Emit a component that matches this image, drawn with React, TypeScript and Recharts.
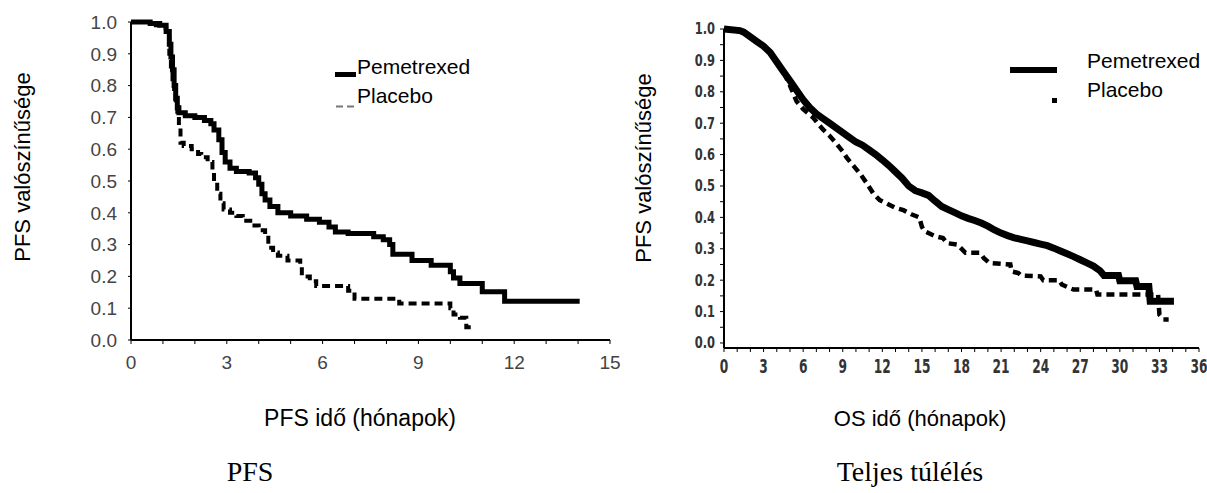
import React from 'react';
import { LineChart, Line, XAxis, YAxis } from 'recharts';

const ARIAL = "'Liberation Sans', Arial, sans-serif";
const NARROW = "'Liberation Sans Narrow', 'DejaVu Sans Condensed', sans-serif";
const SERIF = "'Liberation Serif', 'Times New Roman', serif";

// ---------- PFS chart data (time in months, survival probability) ----------
const pfsPemetrexed = [
  { t: 0, s: 1.0 }, { t: 0.6, s: 0.995 }, { t: 0.9, s: 0.99 }, { t: 1.1, s: 0.97 },
  { t: 1.2, s: 0.93 }, { t: 1.25, s: 0.89 }, { t: 1.3, s: 0.85 }, { t: 1.35, s: 0.8 },
  { t: 1.4, s: 0.76 }, { t: 1.45, s: 0.73 }, { t: 1.5, s: 0.715 }, { t: 1.7, s: 0.705 },
  { t: 2.0, s: 0.7 }, { t: 2.3, s: 0.69 }, { t: 2.5, s: 0.68 }, { t: 2.6, s: 0.66 },
  { t: 2.75, s: 0.63 }, { t: 2.85, s: 0.59 }, { t: 2.95, s: 0.56 }, { t: 3.1, s: 0.54 },
  { t: 3.3, s: 0.53 }, { t: 3.7, s: 0.525 }, { t: 3.9, s: 0.51 }, { t: 4.0, s: 0.49 },
  { t: 4.1, s: 0.46 }, { t: 4.2, s: 0.44 }, { t: 4.35, s: 0.42 }, { t: 4.6, s: 0.4 },
  { t: 5.0, s: 0.39 }, { t: 5.5, s: 0.38 }, { t: 5.9, s: 0.37 }, { t: 6.2, s: 0.355 },
  { t: 6.4, s: 0.34 }, { t: 6.8, s: 0.335 }, { t: 7.6, s: 0.325 }, { t: 7.9, s: 0.315 },
  { t: 8.1, s: 0.3 }, { t: 8.2, s: 0.27 }, { t: 8.8, s: 0.25 }, { t: 9.4, s: 0.235 },
  { t: 10.0, s: 0.215 }, { t: 10.1, s: 0.195 }, { t: 10.3, s: 0.178 }, { t: 11.0, s: 0.152 },
  { t: 11.7, s: 0.122 }, { t: 14.05, s: 0.122 },
];

const pfsPlacebo = [
  { t: 0, s: 1.0 }, { t: 0.7, s: 0.99 }, { t: 1.0, s: 0.98 }, { t: 1.1, s: 0.95 },
  { t: 1.2, s: 0.9 }, { t: 1.25, s: 0.86 }, { t: 1.3, s: 0.82 }, { t: 1.35, s: 0.78 },
  { t: 1.4, s: 0.74 }, { t: 1.45, s: 0.71 }, { t: 1.5, s: 0.67 }, { t: 1.55, s: 0.62 },
  { t: 1.65, s: 0.61 }, { t: 1.9, s: 0.6 }, { t: 2.1, s: 0.585 }, { t: 2.2, s: 0.575 },
  { t: 2.4, s: 0.56 }, { t: 2.55, s: 0.53 }, { t: 2.6, s: 0.5 }, { t: 2.7, s: 0.46 },
  { t: 2.8, s: 0.43 }, { t: 2.9, s: 0.41 }, { t: 3.1, s: 0.4 }, { t: 3.3, s: 0.39 },
  { t: 3.5, s: 0.375 }, { t: 3.8, s: 0.36 }, { t: 4.0, s: 0.345 }, { t: 4.2, s: 0.33 },
  { t: 4.3, s: 0.29 }, { t: 4.45, s: 0.275 }, { t: 4.6, s: 0.265 }, { t: 4.9, s: 0.25 },
  { t: 5.3, s: 0.235 }, { t: 5.35, s: 0.2 }, { t: 5.6, s: 0.185 }, { t: 5.8, s: 0.17 },
  { t: 6.8, s: 0.155 }, { t: 7.0, s: 0.13 }, { t: 8.4, s: 0.115 }, { t: 10.0, s: 0.1 },
  { t: 10.1, s: 0.08 }, { t: 10.3, s: 0.07 }, { t: 10.5, s: 0.04 }, { t: 10.75, s: 0.04 },
];

// ---------- OS chart data ----------
const osPemetrexed = [
  { t: 0, s: 1.0 }, { t: 1.2, s: 0.995 }, { t: 1.5, s: 0.99 }, { t: 2.0, s: 0.975 },
  { t: 2.5, s: 0.96 }, { t: 3.0, s: 0.945 }, { t: 3.5, s: 0.925 }, { t: 4.0, s: 0.895 },
  { t: 4.5, s: 0.865 }, { t: 5.0, s: 0.835 }, { t: 5.5, s: 0.805 }, { t: 6.0, s: 0.775 },
  { t: 6.5, s: 0.75 }, { t: 7.0, s: 0.73 }, { t: 7.5, s: 0.715 }, { t: 8.0, s: 0.7 },
  { t: 8.5, s: 0.685 }, { t: 9.0, s: 0.67 }, { t: 9.5, s: 0.655 }, { t: 10.0, s: 0.64 },
  { t: 10.5, s: 0.63 }, { t: 11.0, s: 0.615 }, { t: 11.5, s: 0.6 }, { t: 12.0, s: 0.583 },
  { t: 12.5, s: 0.565 }, { t: 13.0, s: 0.545 }, { t: 13.5, s: 0.525 }, { t: 14.0, s: 0.5 },
  { t: 14.5, s: 0.485 }, { t: 15.0, s: 0.478 }, { t: 15.5, s: 0.47 }, { t: 16.0, s: 0.452 },
  { t: 16.5, s: 0.435 }, { t: 17.0, s: 0.425 }, { t: 17.5, s: 0.415 }, { t: 18.0, s: 0.405 },
  { t: 18.5, s: 0.397 }, { t: 19.0, s: 0.39 }, { t: 19.5, s: 0.382 }, { t: 20.0, s: 0.372 },
  { t: 20.5, s: 0.36 }, { t: 21.0, s: 0.35 }, { t: 21.5, s: 0.342 }, { t: 22.0, s: 0.335 },
  { t: 22.5, s: 0.33 }, { t: 23.0, s: 0.325 }, { t: 23.5, s: 0.32 }, { t: 24.0, s: 0.315 },
  { t: 24.5, s: 0.31 }, { t: 25.0, s: 0.302 }, { t: 25.5, s: 0.293 }, { t: 26.0, s: 0.284 },
  { t: 26.5, s: 0.275 }, { t: 27.0, s: 0.265 }, { t: 27.5, s: 0.255 }, { t: 28.0, s: 0.245 },
  { t: 28.5, s: 0.23 }, { t: 28.8, s: 0.215 }, { t: 29.9, s: 0.215 }, { t: 30.0, s: 0.198 },
  { t: 31.2, s: 0.198 }, { t: 31.3, s: 0.18 }, { t: 32.2, s: 0.18 }, { t: 32.3, s: 0.133 },
  { t: 34.1, s: 0.133 },
];

const osPlacebo = [
  { t: 0, s: 1.0 }, { t: 1.5, s: 0.99 }, { t: 2.0, s: 0.975 }, { t: 2.5, s: 0.96 },
  { t: 3.0, s: 0.945 }, { t: 3.5, s: 0.925 }, { t: 4.0, s: 0.895 }, { t: 4.5, s: 0.865 },
  { t: 5.0, s: 0.82 }, { t: 5.5, s: 0.77 }, { t: 6.0, s: 0.745 }, { t: 6.7, s: 0.72 },
  { t: 7.5, s: 0.68 }, { t: 8.0, s: 0.66 }, { t: 8.5, s: 0.636 }, { t: 9.0, s: 0.61 },
  { t: 9.3, s: 0.59 }, { t: 9.8, s: 0.565 }, { t: 10.3, s: 0.54 }, { t: 10.8, s: 0.51 },
  { t: 11.3, s: 0.477 }, { t: 11.8, s: 0.455 }, { t: 12.3, s: 0.445 }, { t: 13.0, s: 0.43 },
  { t: 13.6, s: 0.423 }, { t: 14.2, s: 0.41 }, { t: 14.8, s: 0.4 }, { t: 15.0, s: 0.37 },
  { t: 15.2, s: 0.356 }, { t: 16.0, s: 0.34 }, { t: 16.6, s: 0.334 }, { t: 16.9, s: 0.318 },
  { t: 17.7, s: 0.313 }, { t: 18.3, s: 0.287 }, { t: 19.4, s: 0.287 }, { t: 19.7, s: 0.27 },
  { t: 20.1, s: 0.255 }, { t: 21.7, s: 0.25 }, { t: 21.8, s: 0.228 }, { t: 22.3, s: 0.223 },
  { t: 22.5, s: 0.215 }, { t: 24.0, s: 0.212 }, { t: 24.2, s: 0.2 }, { t: 25.4, s: 0.2 },
  { t: 25.6, s: 0.186 }, { t: 26.2, s: 0.175 }, { t: 26.5, s: 0.17 }, { t: 28.2, s: 0.17 },
  { t: 28.3, s: 0.154 }, { t: 32.9, s: 0.154 }, { t: 33.0, s: 0.09 }, { t: 33.3, s: 0.075 },
  { t: 33.7, s: 0.075 },
];

// ---------- tick values ----------
const pfsXTicks = [0, 1, 2, 3, 4, 5, 6, 7, 8, 9, 10, 11, 12, 13, 14, 15];
const pfsYTicks = [0, 0.1, 0.2, 0.3, 0.4, 0.5, 0.6, 0.7, 0.8, 0.9, 1.0];
const osXTicks = [0, 1, 2, 3, 4, 5, 6, 7, 8, 9, 10, 11, 12, 13, 14, 15, 16, 17, 18, 19, 20,
  21, 22, 23, 24, 25, 26, 27, 28, 29, 30, 31, 32, 33, 34, 35, 36];
const osYTicks = [0, 0.05, 0.1, 0.15, 0.2, 0.25, 0.3, 0.35, 0.4, 0.45, 0.5, 0.55, 0.6, 0.65,
  0.7, 0.75, 0.8, 0.85, 0.9, 0.95, 1.0];

const labels = {
  yTitle: 'PFS valószínűsége',
  pfsXTitle: 'PFS idő (hónapok)',
  osXTitle: 'OS idő (hónapok)',
  pfsTitle: 'PFS',
  osTitle: 'Teljes túlélés',
  pem: 'Pemetrexed',
  pla: 'Placebo',
};

function OsXTick(props: any) {
  const { x, y, payload } = props;
  const v = payload.value;
  if (v % 3 !== 0) return null;
  return (
    <text
      transform={`translate(${x},${y}) scale(0.68,1)`}
      textAnchor="middle"
      dy="0.71em"
      fontFamily={NARROW}
      fontWeight="bold"
      fontSize={20}
      fill="#333"
    >
      {v}
    </text>
  );
}

function OsYTick(props: any) {
  const { x, y, payload } = props;
  const v = payload.value;
  if (Math.round(v * 100) % 10 !== 0) return null;
  return (
    <text
      transform={`translate(${x},${y}) scale(0.85,1)`}
      textAnchor="end"
      dy="0.36em"
      fontFamily={NARROW}
      fontWeight="bold"
      fontSize={15}
      fill="#333"
    >
      {v.toFixed(1)}
    </text>
  );
}

export default function App() {
  return (
    <div style={{ position: 'absolute', left: 0, top: 0, width: 1207, height: 493, background: '#fff', overflow: 'hidden' }}>
      <div style={{ position: 'absolute', left: 0, top: 0 }}>
        <LineChart width={640} height={400} margin={{ top: 22, right: 30, bottom: 20, left: 71 }}>
          <XAxis
            dataKey="t"
            type="number"
            domain={[0, 15]}
            ticks={pfsXTicks}
            interval={0}
            height={40}
            tickSize={4}
            tickMargin={12}
            axisLine={{ stroke: '#000', strokeWidth: 2 }}
            tickLine={{ stroke: '#000' }}
            tickFormatter={(v: number) => (v % 3 === 0 ? String(v) : '')}
            tick={{ fontSize: 19, fill: '#444', fontFamily: ARIAL }}
          />
          <YAxis
            type="number"
            domain={[0, 1]}
            ticks={pfsYTicks}
            interval={0}
            width={60}
            tickSize={3}
            tickMargin={11}
            axisLine={{ stroke: '#000', strokeWidth: 2 }}
            tickLine={{ stroke: '#000' }}
            tickFormatter={(v: number) => v.toFixed(1)}
            tick={{ fontSize: 19, fill: '#444', fontFamily: ARIAL }}
          />
          <Line
            data={pfsPlacebo}
            dataKey="s"
            type="stepAfter"
            stroke="#000"
            strokeWidth={4}
            strokeDasharray="8 5"
            dot={false}
            isAnimationActive={false}
          />
          <Line
            data={pfsPemetrexed}
            dataKey="s"
            type="stepAfter"
            stroke="#000"
            strokeWidth={5}
            dot={false}
            isAnimationActive={false}
          />
        </LineChart>
      </div>

      <div style={{ position: 'absolute', left: 620, top: 0 }}>
        <LineChart width={587} height={400} margin={{ top: 29, right: 8, bottom: 12, left: 44 }}>
          <XAxis
            dataKey="t"
            type="number"
            domain={[0, 36]}
            ticks={osXTicks}
            interval={0}
            height={40}
            tickSize={4}
            tickMargin={7}
            axisLine={{ stroke: '#000', strokeWidth: 2 }}
            tickLine={{ stroke: '#000' }}
            tick={<OsXTick />}
          />
          <YAxis
            type="number"
            domain={[-0.016, 1]}
            ticks={osYTicks}
            interval={0}
            width={60}
            tickSize={4}
            tickMargin={5}
            axisLine={{ stroke: '#000', strokeWidth: 2 }}
            tickLine={{ stroke: '#000' }}
            tick={<OsYTick />}
          />
          <Line
            data={osPlacebo}
            dataKey="s"
            type="linear"
            stroke="#000"
            strokeWidth={4.5}
            strokeDasharray="8 5"
            dot={false}
            isAnimationActive={false}
          />
          <Line
            data={osPemetrexed}
            dataKey="s"
            type="linear"
            stroke="#000"
            strokeWidth={7}
            dot={false}
            isAnimationActive={false}
          />
        </LineChart>
      </div>

      <svg width={1207} height={493} style={{ position: 'absolute', left: 0, top: 0, pointerEvents: 'none' }}>
        <g fontFamily={ARIAL} fill="#000">
          <text transform="translate(30,167) rotate(-90)" textAnchor="middle" fontSize={22}>{labels.yTitle}</text>
          <text transform="translate(651,168) rotate(-90)" textAnchor="middle" fontSize={22}>{labels.yTitle}</text>
          <text x={360} y={426} textAnchor="middle" fontSize={23}>{labels.pfsXTitle}</text>
          <text x={920} y={426} textAnchor="middle" fontSize={22}>{labels.osXTitle}</text>

          <rect x={335} y={72} width={21} height={5} fill="#000" />
          <text x={357} y={74} fontSize={21}>{labels.pem}</text>
          <line x1={336} y1={106.5} x2={356} y2={106.5} stroke="#777" strokeWidth={2} strokeDasharray="7 4" />
          <text x={357} y={103} fontSize={21}>{labels.pla}</text>

          <rect x={1010} y={67} width={47} height={6} fill="#000" />
          <text x={1087} y={68} fontSize={21}>{labels.pem}</text>
          <rect x={1052} y={98} width={5} height={5} fill="#000" />
          <text x={1087} y={97} fontSize={21}>{labels.pla}</text>
        </g>
        <g fontFamily={SERIF} fill="#000">
          <text x={250} y={481} textAnchor="middle" fontSize={28}>{labels.pfsTitle}</text>
          <text x={910} y={481} textAnchor="middle" fontSize={28}>{labels.osTitle}</text>
        </g>
      </svg>
    </div>
  );
}
